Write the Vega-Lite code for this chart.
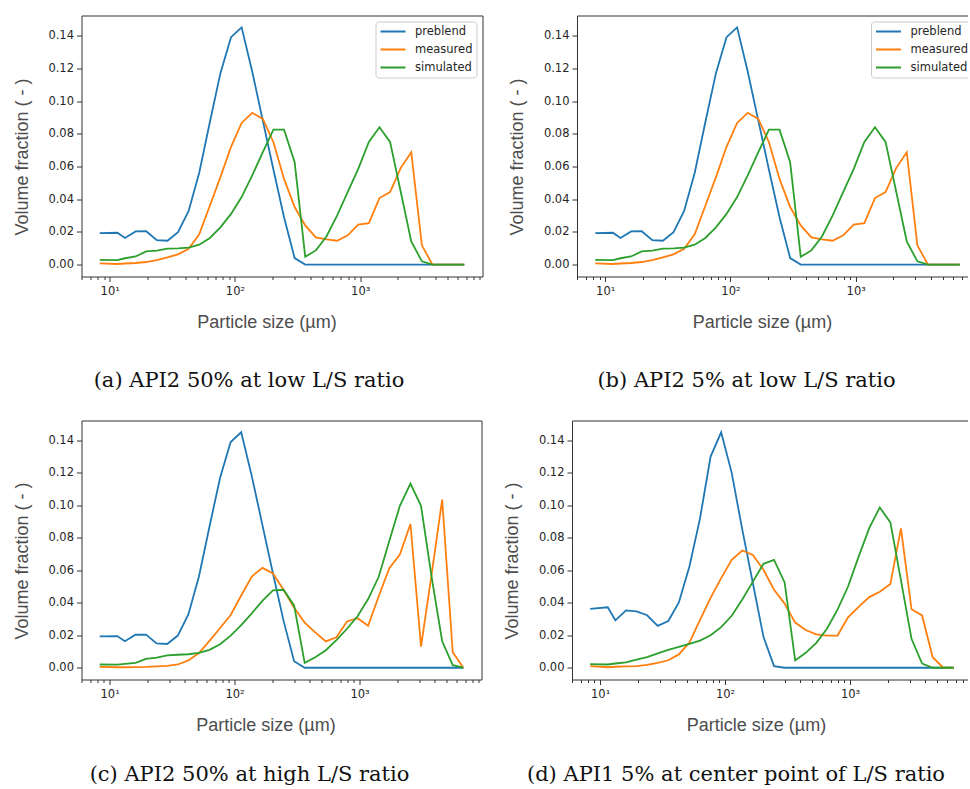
{
  "$schema": "https://vega.github.io/schema/vega-lite/v6.json",
  "background": "white",
  "padding": {"left": 12.5, "top": 14.5, "right": -11, "bottom": 0},
  "datasets": {
    "psd": [
      {"panel":"a","size":8.32,"preblend":0.0193,"measured":0.0008,"simulated":0.0029},
      {"panel":"a","size":11.5,"preblend":0.0195,"measured":0.0004,"simulated":0.0028},
      {"panel":"a","size":13.24,"preblend":0.0163,"measured":0.0007,"simulated":0.0039},
      {"panel":"a","size":16.09,"preblend":0.0203,"measured":0.0010,"simulated":0.0050},
      {"panel":"a","size":19.55,"preblend":0.0204,"measured":0.0016,"simulated":0.0081},
      {"panel":"a","size":23.76,"preblend":0.0150,"measured":0.0028,"simulated":0.0086},
      {"panel":"a","size":28.88,"preblend":0.0146,"measured":0.0045,"simulated":0.0098},
      {"panel":"a","size":35.1,"preblend":0.0198,"measured":0.0063,"simulated":0.0099},
      {"panel":"a","size":42.65,"preblend":0.0328,"measured":0.0097,"simulated":0.0104},
      {"panel":"a","size":51.83,"preblend":0.0562,"measured":0.0185,"simulated":0.0122},
      {"panel":"a","size":62.99,"preblend":0.0870,"measured":0.0360,"simulated":0.0163},
      {"panel":"a","size":76.55,"preblend":0.1170,"measured":0.0535,"simulated":0.0228},
      {"panel":"a","size":93.0,"preblend":0.1390,"measured":0.0720,"simulated":0.0310},
      {"panel":"a","size":113.0,"preblend":0.1450,"measured":0.0866,"simulated":0.0413},
      {"panel":"a","size":137.3,"preblend":0.1180,"measured":0.0928,"simulated":0.0545},
      {"panel":"a","size":166.9,"preblend":0.0880,"measured":0.0890,"simulated":0.0687},
      {"panel":"a","size":202.9,"preblend":0.0580,"measured":0.0748,"simulated":0.0825},
      {"panel":"a","size":246.5,"preblend":0.0290,"measured":0.0524,"simulated":0.0825},
      {"panel":"a","size":299.6,"preblend":0.0040,"measured":0.0352,"simulated":0.0626},
      {"panel":"a","size":364.0,"preblend":0.0,"measured":0.0240,"simulated":0.0048},
      {"panel":"a","size":442.4,"preblend":0.0,"measured":0.0167,"simulated":0.0087},
      {"panel":"a","size":537.7,"preblend":0.0,"measured":0.0155,"simulated":0.0172},
      {"panel":"a","size":653.4,"preblend":0.0,"measured":0.0146,"simulated":0.0300},
      {"panel":"a","size":794.1,"preblend":0.0,"measured":0.0179,"simulated":0.0443},
      {"panel":"a","size":964.7,"preblend":0.0,"measured":0.0244,"simulated":0.0585},
      {"panel":"a","size":1172.6,"preblend":0.0,"measured":0.0254,"simulated":0.0750},
      {"panel":"a","size":1425.0,"preblend":0.0,"measured":0.0407,"simulated":0.0840},
      {"panel":"a","size":1731.6,"preblend":0.0,"measured":0.0443,"simulated":0.0750},
      {"panel":"a","size":2104.5,"preblend":0.0,"measured":0.0590,"simulated":0.0447},
      {"panel":"a","size":2557.1,"preblend":0.0,"measured":0.0687,"simulated":0.0142},
      {"panel":"a","size":3108,"preblend":0.0,"measured":0.0118,"simulated":0.0020},
      {"panel":"a","size":3777,"preblend":0.0,"measured":0.0,"simulated":0.0},
      {"panel":"a","size":4589,"preblend":0.0,"measured":0.0,"simulated":0.0},
      {"panel":"a","size":5577,"preblend":0.0,"measured":0.0,"simulated":0.0},
      {"panel":"a","size":6776,"preblend":0.0,"measured":0.0,"simulated":0.0},

      {"panel":"c","size":8.32,"preblend":0.0193,"measured":0.0005,"simulated":0.0020},
      {"panel":"c","size":11.5,"preblend":0.0195,"measured":0.0003,"simulated":0.0019},
      {"panel":"c","size":13.24,"preblend":0.0163,"measured":0.0003,"simulated":0.0024},
      {"panel":"c","size":16.09,"preblend":0.0203,"measured":0.0004,"simulated":0.0030},
      {"panel":"c","size":19.55,"preblend":0.0204,"measured":0.0005,"simulated":0.0055},
      {"panel":"c","size":23.76,"preblend":0.0150,"measured":0.0008,"simulated":0.0062},
      {"panel":"c","size":28.88,"preblend":0.0146,"measured":0.0012,"simulated":0.0076},
      {"panel":"c","size":35.1,"preblend":0.0198,"measured":0.0020,"simulated":0.0080},
      {"panel":"c","size":42.65,"preblend":0.0328,"measured":0.0045,"simulated":0.0083},
      {"panel":"c","size":51.83,"preblend":0.0562,"measured":0.0090,"simulated":0.0091},
      {"panel":"c","size":62.99,"preblend":0.0870,"measured":0.0165,"simulated":0.0110},
      {"panel":"c","size":76.55,"preblend":0.1170,"measured":0.0245,"simulated":0.0145},
      {"panel":"c","size":93.0,"preblend":0.1390,"measured":0.0325,"simulated":0.0198},
      {"panel":"c","size":113.0,"preblend":0.1450,"measured":0.0445,"simulated":0.0262},
      {"panel":"c","size":137.3,"preblend":0.1180,"measured":0.0562,"simulated":0.0335},
      {"panel":"c","size":166.9,"preblend":0.0880,"measured":0.0615,"simulated":0.0412},
      {"panel":"c","size":202.9,"preblend":0.0580,"measured":0.0580,"simulated":0.0476},
      {"panel":"c","size":246.5,"preblend":0.0290,"measured":0.0480,"simulated":0.0480},
      {"panel":"c","size":299.6,"preblend":0.0040,"measured":0.0370,"simulated":0.0384},
      {"panel":"c","size":364.0,"preblend":0.0,"measured":0.0278,"simulated":0.0030},
      {"panel":"c","size":442.4,"preblend":0.0,"measured":0.0218,"simulated":0.0065},
      {"panel":"c","size":537.7,"preblend":0.0,"measured":0.0162,"simulated":0.0108},
      {"panel":"c","size":653.4,"preblend":0.0,"measured":0.0187,"simulated":0.0170},
      {"panel":"c","size":794.1,"preblend":0.0,"measured":0.0285,"simulated":0.0240},
      {"panel":"c","size":964.7,"preblend":0.0,"measured":0.0305,"simulated":0.0317},
      {"panel":"c","size":1172.6,"preblend":0.0,"measured":0.0258,"simulated":0.0423},
      {"panel":"c","size":1425.0,"preblend":0.0,"measured":0.0440,"simulated":0.0560},
      {"panel":"c","size":1731.6,"preblend":0.0,"measured":0.0613,"simulated":0.0780},
      {"panel":"c","size":2104.5,"preblend":0.0,"measured":0.0697,"simulated":0.0997},
      {"panel":"c","size":2557.1,"preblend":0.0,"measured":0.0885,"simulated":0.1134},
      {"panel":"c","size":3108,"preblend":0.0,"measured":0.0130,"simulated":0.0997},
      {"panel":"c","size":3777,"preblend":0.0,"measured":0.0575,"simulated":0.0560},
      {"panel":"c","size":4589,"preblend":0.0,"measured":0.1035,"simulated":0.0163},
      {"panel":"c","size":5577,"preblend":0.0,"measured":0.0095,"simulated":0.0016},
      {"panel":"c","size":6776,"preblend":0.0,"measured":0.0,"simulated":0.0},

      {"panel":"d","size":8.32,"preblend":0.0362,"measured":0.0010,"simulated":0.0022},
      {"panel":"d","size":11.5,"preblend":0.0372,"measured":0.0003,"simulated":0.0020},
      {"panel":"d","size":13.24,"preblend":0.0292,"measured":0.0006,"simulated":0.0026},
      {"panel":"d","size":16.09,"preblend":0.0353,"measured":0.0008,"simulated":0.0033},
      {"panel":"d","size":19.55,"preblend":0.0347,"measured":0.0010,"simulated":0.0050},
      {"panel":"d","size":23.76,"preblend":0.0323,"measured":0.0017,"simulated":0.0065},
      {"panel":"d","size":28.88,"preblend":0.0258,"measured":0.0030,"simulated":0.0088},
      {"panel":"d","size":35.1,"preblend":0.0288,"measured":0.0046,"simulated":0.0110},
      {"panel":"d","size":42.65,"preblend":0.0402,"measured":0.0082,"simulated":0.0128},
      {"panel":"d","size":51.83,"preblend":0.0623,"measured":0.0155,"simulated":0.0147},
      {"panel":"d","size":62.99,"preblend":0.0920,"measured":0.0295,"simulated":0.0167},
      {"panel":"d","size":76.55,"preblend":0.1300,"measured":0.0430,"simulated":0.0200},
      {"panel":"d","size":93.0,"preblend":0.1450,"measured":0.0552,"simulated":0.0250},
      {"panel":"d","size":113.0,"preblend":0.1200,"measured":0.0664,"simulated":0.0320},
      {"panel":"d","size":137.3,"preblend":0.0850,"measured":0.0722,"simulated":0.0420},
      {"panel":"d","size":166.9,"preblend":0.0520,"measured":0.0695,"simulated":0.0530},
      {"panel":"d","size":202.9,"preblend":0.0190,"measured":0.0603,"simulated":0.0640},
      {"panel":"d","size":246.5,"preblend":0.0010,"measured":0.0480,"simulated":0.0664},
      {"panel":"d","size":299.6,"preblend":0.0,"measured":0.0395,"simulated":0.0525},
      {"panel":"d","size":364.0,"preblend":0.0,"measured":0.0278,"simulated":0.0045},
      {"panel":"d","size":442.4,"preblend":0.0,"measured":0.0232,"simulated":0.0092},
      {"panel":"d","size":537.7,"preblend":0.0,"measured":0.0205,"simulated":0.0153},
      {"panel":"d","size":653.4,"preblend":0.0,"measured":0.0198,"simulated":0.0240},
      {"panel":"d","size":794.1,"preblend":0.0,"measured":0.0198,"simulated":0.0358},
      {"panel":"d","size":964.7,"preblend":0.0,"measured":0.0310,"simulated":0.0500},
      {"panel":"d","size":1172.6,"preblend":0.0,"measured":0.0375,"simulated":0.0684},
      {"panel":"d","size":1425.0,"preblend":0.0,"measured":0.0435,"simulated":0.0860},
      {"panel":"d","size":1731.6,"preblend":0.0,"measured":0.0468,"simulated":0.0987},
      {"panel":"d","size":2104.5,"preblend":0.0,"measured":0.0515,"simulated":0.0895},
      {"panel":"d","size":2557.1,"preblend":0.0,"measured":0.0858,"simulated":0.0540},
      {"panel":"d","size":3108,"preblend":0.0,"measured":0.0360,"simulated":0.0178},
      {"panel":"d","size":3777,"preblend":0.0,"measured":0.0322,"simulated":0.0025},
      {"panel":"d","size":4589,"preblend":0.0,"measured":0.0065,"simulated":0.0},
      {"panel":"d","size":5577,"preblend":0.0,"measured":0.0,"simulated":0.0},
      {"panel":"d","size":6776,"preblend":0.0,"measured":0.0,"simulated":0.0}
    ]
  },
  "data": {"name": "psd"},
  "config": {
    "view": {"stroke": "#333333", "strokeWidth": 1},
    "axis": {
      "domain": false, "grid": false,
      "labelFont": "DejaVu Sans", "labelFontSize": 11.5, "labelColor": "#262626",
      "tickColor": "#333333", "tickSize": 5, "tickWidth": 1, "labelPadding": 3,
      "titleFont": "Liberation Sans", "titleFontSize": 18, "titleFontWeight": "normal", "titleColor": "#4d4d4d"
    },
    "axisY": {"titlePadding": 16.5},
    "axisX": {"titlePadding": 17, "labelPadding": 3.5},
    "title": {"orient": "bottom", "anchor": "middle", "font": "DejaVu Serif", "fontSize": 21, "fontWeight": "normal", "color": "#111111", "offset": 38},
    "line": {"strokeWidth": 1.8}
  },
  "spacing": 28,
  "resolve": {"legend": {"color": "independent"}, "scale": {"color": "independent"}},
  "vconcat": [
    {
      "spacing": 24.5,
      "resolve": {"legend": {"color": "independent"}, "scale": {"color": "independent"}},
      "hconcat": [
        {
          "width": 401, "height": 261,
          "title": {"text": "(a) API2 50% at low L/S ratio", "dx": -33},
          "transform": [{"filter": "datum.panel === 'a'"}, {"fold": ["preblend", "measured", "simulated"], "as": ["series", "value"]}],
          "mark": {"type": "line", "clip": true},
          "encoding": {
            "x": {"field": "size", "type": "quantitative", "scale": {"type": "log", "domain": [5.95, 9475], "nice": false},
              "axis": {"title": "Particle size (µm)", "titleX": 185, "labelOverlap": false, "labelFlush": false,
                "values": [6,7,8,9,10,20,30,40,50,60,70,80,90,100,200,300,400,500,600,700,800,900,1000,2000,3000,4000,5000,6000,7000,8000,9000],
                "labelExpr": "datum.value === 10 ? '10¹' : datum.value === 100 ? '10²' : datum.value === 1000 ? '10³' : ''",
                "tickSize": {"condition": {"test": "datum.value === 10 || datum.value === 100 || datum.value === 1000", "value": 5}, "value": 3}}},
            "y": {"field": "value", "type": "quantitative", "scale": {"domain": [-0.00725, 0.15225], "nice": false, "zero": false},
              "axis": {"title": "Volume fraction ( - )", "titleY": 141, "values": [0, 0.02, 0.04, 0.06, 0.08, 0.1, 0.12, 0.14], "format": ".2f"}},
            "color": {"field": "series", "type": "nominal",
              "scale": {"domain": ["preblend", "measured", "simulated"], "range": ["#1f77b4", "#ff7f0e", "#2ca02c"]},
              "legend": {"orient": "top-right", "offset": 6, "title": null, "symbolType": "stroke", "symbolSize": 625, "symbolStrokeWidth": 2,
                "clipHeight": 12, "labelFont": "DejaVu Sans", "labelFontSize": 11.5, "labelColor": "#262626", "labelOffset": 8.5, "padding": 4, "rowPadding": 6,
                "strokeColor": "#cccccc", "fillColor": "rgba(255,255,255,0.8)", "cornerRadius": 3}}
          }
        },
        {
          "width": 401, "height": 261,
          "title": {"text": "(b) API2 5% at low L/S ratio", "dx": -31},
          "transform": [{"filter": "datum.panel === 'a'"}, {"fold": ["preblend", "measured", "simulated"], "as": ["series", "value"]}],
          "mark": {"type": "line", "clip": true},
          "encoding": {
            "x": {"field": "size", "type": "quantitative", "scale": {"type": "log", "domain": [5.95, 9475], "nice": false},
              "axis": {"title": "Particle size (µm)", "titleX": 185, "labelOverlap": false, "labelFlush": false,
                "values": [6,7,8,9,10,20,30,40,50,60,70,80,90,100,200,300,400,500,600,700,800,900,1000,2000,3000,4000,5000,6000,7000,8000,9000],
                "labelExpr": "datum.value === 10 ? '10¹' : datum.value === 100 ? '10²' : datum.value === 1000 ? '10³' : ''",
                "tickSize": {"condition": {"test": "datum.value === 10 || datum.value === 100 || datum.value === 1000", "value": 5}, "value": 3}}},
            "y": {"field": "value", "type": "quantitative", "scale": {"domain": [-0.00725, 0.15225], "nice": false, "zero": false},
              "axis": {"title": "Volume fraction ( - )", "titleY": 141, "values": [0, 0.02, 0.04, 0.06, 0.08, 0.1, 0.12, 0.14], "format": ".2f"}},
            "color": {"field": "series", "type": "nominal",
              "scale": {"domain": ["preblend", "measured", "simulated"], "range": ["#1f77b4", "#ff7f0e", "#2ca02c"]},
              "legend": {"orient": "top-right", "offset": 6, "title": null, "symbolType": "stroke", "symbolSize": 625, "symbolStrokeWidth": 2,
                "clipHeight": 12, "labelFont": "DejaVu Sans", "labelFontSize": 11.5, "labelColor": "#262626", "labelOffset": 8.5, "padding": 4, "rowPadding": 6,
                "strokeColor": "#cccccc", "fillColor": "rgba(255,255,255,0.8)", "cornerRadius": 3}}
          }
        }
      ]
    },
    {
      "spacing": 20.5,
      "resolve": {"legend": {"color": "independent"}, "scale": {"color": "independent"}},
      "hconcat": [
        {
          "width": 400, "height": 259,
          "title": {"text": "(c) API2 50% at high L/S ratio", "dx": -32, "offset": 29.5},
          "transform": [{"filter": "datum.panel === 'c'"}, {"fold": ["preblend", "measured", "simulated"], "as": ["series", "value"]}],
          "mark": {"type": "line", "clip": true},
          "encoding": {
            "x": {"field": "size", "type": "quantitative", "scale": {"type": "log", "domain": [5.95, 9475], "nice": false},
              "axis": {"title": "Particle size (µm)", "titleX": 184, "labelOverlap": false, "labelFlush": false,
                "values": [6,7,8,9,10,20,30,40,50,60,70,80,90,100,200,300,400,500,600,700,800,900,1000,2000,3000,4000,5000,6000,7000,8000,9000],
                "labelExpr": "datum.value === 10 ? '10¹' : datum.value === 100 ? '10²' : datum.value === 1000 ? '10³' : ''",
                "tickSize": {"condition": {"test": "datum.value === 10 || datum.value === 100 || datum.value === 1000", "value": 5}, "value": 3}}},
            "y": {"field": "value", "type": "quantitative", "scale": {"domain": [-0.00725, 0.15225], "nice": false, "zero": false},
              "axis": {"title": "Volume fraction ( - )", "titleY": 140, "values": [0, 0.02, 0.04, 0.06, 0.08, 0.1, 0.12, 0.14], "format": ".2f"}},
            "color": {"field": "series", "type": "nominal",
              "scale": {"domain": ["preblend", "measured", "simulated"], "range": ["#1f77b4", "#ff7f0e", "#2ca02c"]},
              "legend": null}
          }
        },
        {
          "width": 400, "height": 259,
          "title": {"text": "(d) API1 5% at center point of L/S ratio", "dx": -36, "offset": 29.5},
          "transform": [{"filter": "datum.panel === 'd'"}, {"fold": ["preblend", "measured", "simulated"], "as": ["series", "value"]}],
          "mark": {"type": "line", "clip": true},
          "encoding": {
            "x": {"field": "size", "type": "quantitative", "scale": {"type": "log", "domain": [5.95, 9475], "nice": false},
              "axis": {"title": "Particle size (µm)", "titleX": 184, "labelOverlap": false, "labelFlush": false,
                "values": [6,7,8,9,10,20,30,40,50,60,70,80,90,100,200,300,400,500,600,700,800,900,1000,2000,3000,4000,5000,6000,7000,8000,9000],
                "labelExpr": "datum.value === 10 ? '10¹' : datum.value === 100 ? '10²' : datum.value === 1000 ? '10³' : ''",
                "tickSize": {"condition": {"test": "datum.value === 10 || datum.value === 100 || datum.value === 1000", "value": 5}, "value": 3}}},
            "y": {"field": "value", "type": "quantitative", "scale": {"domain": [-0.00725, 0.15225], "nice": false, "zero": false},
              "axis": {"title": "Volume fraction ( - )", "titleY": 140, "values": [0, 0.02, 0.04, 0.06, 0.08, 0.1, 0.12, 0.14], "format": ".2f"}},
            "color": {"field": "series", "type": "nominal",
              "scale": {"domain": ["preblend", "measured", "simulated"], "range": ["#1f77b4", "#ff7f0e", "#2ca02c"]},
              "legend": null}
          }
        }
      ]
    }
  ]
}
